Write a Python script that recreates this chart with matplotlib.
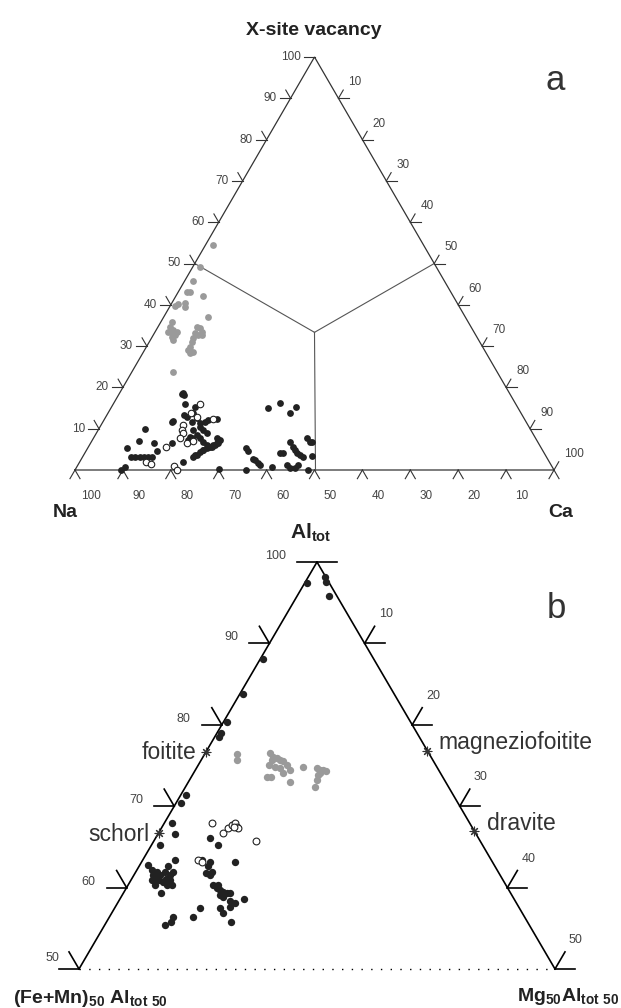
import numpy as np
import matplotlib.pyplot as plt

plt.rcParams['font.family'] = ['Liberation Sans', 'DejaVu Sans']
plt.rcParams['mathtext.fontset'] = 'custom'
plt.rcParams['mathtext.rm'] = 'Liberation Sans'
plt.rcParams['mathtext.bf'] = 'Liberation Sans:bold'

# ---- panel a : Na - X-site vacancy - Ca  (values in %: Na, vacancy) ----
a_black_na = [90.3, 89.2, 86.6, 86.8, 85.9, 84.8, 84.0, 83.1, 82.4, 83.0, 80.4, 80.3, 80.6, 76.4,
              73.85, 68.2, 68.5, 68.1, 69.0, 70.5, 70.2, 69.8, 68.35, 76.4,
              73.7, 72.8, 71.7, 70.8, 69.9, 68.7, 67.8, 66.85, 66.05, 66.55, 69.8, 64.4,
              61.6, 61.45, 61.45, 61.2, 60.9, 60.8, 58.5,
              52.35, 48.95, 48.15, 46.25, 55.1, 54.5,
              51.7, 51.6, 51.7, 51.7, 51.2, 50.7, 55.2, 54.9, 53.9, 52.8, 47.75, 47.5, 47.0, 48.9, 51.3,
              68.45, 70.45, 70.35, 70.05, 69.8, 69.5, 69.0, 68.1, 67.15, 71.95, 71.65, 73.15, 70.8,
              68.25, 67.05, 66.15, 64.25, 68.65, 68.35, 68.05, 71.75, 72.7, 67.3, 73.55]
a_black_vac = [0, 0.8, 5.25, 3.2, 3.2, 3.2, 3.2, 3.2, 3.2, 7.1, 9.9, 6.5, 4.7, 6.5,
               11.7, 18.7, 18.4, 18.2, 16.0, 13.3, 12.9, 11.7, 12.5, 2.0,
               3.2, 3.6, 4.4, 4.8, 5.25, 5.6, 6.05, 6.5, 7.3, 7.7, 0.2, 0,
               5.25, 4.7, 2.7, 2.4, 1.6, 1.2, 0.65,
               14.9, 16.3, 13.9, 15.3, 4.2, 4.0,
               6.85, 5.6, 4.8, 4.0, 3.6, 3.2, 1.2, 0.4, 0.4, 1.2, 7.7, 6.85, 6.85, 3.4, 0,
               13.7, 9.7, 8.5, 7.7, 6.85, 6.05, 5.6, 6.05, 6.5, 8.1, 7.3, 3.6, 4.8,
               11.3, 11.7, 12.1, 12.3, 10.5, 9.7, 8.9, 7.7, 7.3, 15.3, 11.9]
a_open_na = [65.9, 69.0, 68.15, 71.95, 72.85, 72.95, 74.25, 73.45, 71.9, 78.15, 84.2, 83.5, 78.8, 78.8, 65.0]
a_open_vac = [16.0, 13.7, 12.9, 10.9, 9.7, 8.9, 7.7, 6.5, 7.1, 5.5, 2.0, 1.4, 1.0, 0, 12.3]
a_gray_na = [44.0, 49.3, 52.5, 55.2, 54.5, 52.15, 59.2, 58.35, 56.8, 57.25, 53.65, 61.85,
             62.85, 63.75, 63.25, 62.55, 62.75, 63.65, 63.75, 62.05,
             57.25, 56.75, 56.8, 57.9, 59.35, 58.4, 60.1, 61.05, 61.8, 61.85, 61.0, 57.2, 67.6]
a_gray_vac = [54.5, 49.2, 45.8, 43.0, 43.0, 42.1, 39.8, 40.1, 40.4, 39.5, 37.1, 35.9,
              34.7, 33.5, 33.1, 33.9, 32.7, 32.3, 31.5, 33.5,
              34.7, 34.3, 33.5, 32.7, 31.9, 33.1, 31.1, 29.9, 29.1, 28.3, 28.6, 32.7, 23.8]

# ---- panel b : Al_tot - (Fe+Mn)50Al50 - Mg50Al50  (values in %: Al, Mg) ----
b_black_al = [97.4, 98.1, 97.5, 95.8, 88.1, 83.75, 80.3, 78.95, 78.55, 71.4, 70.35,
              67.9, 66.6, 65.2,
              62.8, 62.2, 61.55, 61.1, 60.9, 60.7, 61.1, 61.55, 61.95, 63.4, 62.6, 61.95, 61.95,
              61.55, 60.9, 60.3, 60.3, 59.3, 60.9, 60.3,
              66.05, 65.2, 63.4, 63.2, 62.6, 61.95, 61.75, 61.55, 63.2, 59.9, 59.7, 59.5, 59.3,
              59.1, 58.9, 60.3, 58.3, 58.6, 58.1, 57.65, 57.45, 57.45, 56.35, 56.35, 55.8, 55.4,
              55.8, 59.3, 60.3, 56.85]
b_black_mg = [0.2, 1.8, 2.2, 3.4, 0.25, 0.4, 0.35, 0.4, 0.4, 0.55, 0.5,
              0.8, 1.8, 0.9,
              0.9, 1.55, 2.0, 2.6, 3.0, 3.5, 3.6, 3.8, 3.9, 3.4, 3.1, 3.05, 2.2,
              2.7, 4.1, 4.6, 2.8, 4.0, 2.2, 4.05,
              5.7, 7.0, 6.2, 7.2, 7.3, 8.0, 7.5, 8.0, 9.8, 9.5, 9.95, 10.4, 10.9,
              10.3, 10.7, 9.5, 11.7, 13.0, 12.35, 12.0, 11.1, 9.0, 8.8, 6.7, 6.8, 6.3,
              13.1, 11.2, 8.9, 11.7]
b_open_al = [67.9, 66.75, 67.3, 67.7, 67.9, 67.5, 67.3, 67.5, 65.75, 63.4, 63.2]
b_open_mg = [5.05, 6.8, 7.0, 7.2, 7.4, 7.8, 8.1, 7.5, 10.7, 5.85, 6.3]
b_gray_al = [76.4, 75.7, 76.5, 76.1, 75.9, 75.7, 75.5, 75.1, 74.45, 75.7, 75.1, 74.85, 74.65,
             74.05, 73.0, 73.6, 73.6, 74.8, 74.65, 74.45, 74.45, 74.35, 73.8, 73.2, 72.4, 74.05]
b_gray_mg = [3.35, 3.7, 6.8, 7.35, 7.8, 8.3, 8.7, 9.3, 9.9, 7.4, 7.4, 8.2, 8.8,
             9.4, 10.65, 7.9, 8.4, 11.15, 12.65, 13.1, 13.4, 13.8, 13.2, 13.35, 13.6, 13.3]

minerals = ['foitite', 'schorl', 'magneziofoitite', 'dravite']
min_al = [76.6, 66.75, 76.8, 67.0]
min_mg = [0.0, 0.0, 23.2, 33.0]

R3 = np.sqrt(3) / 2
W, H = 621, 1008
fig = plt.figure(figsize=(W / 100, H / 100), dpi=100)


def make_axes(x0, x1, ybase, ytop):
    ax = fig.add_axes([0, 0, 1, 1])
    sx = (x1 - x0) / 100
    sy = (ybase - ytop) / (100 * R3)
    ax.set_xlim(-x0 / sx, (W - x0) / sx)
    ax.set_ylim(-(H - ybase) / sy, ybase / sy)
    ax.axis('off')
    return ax


def xy_a(na, vac):
    na, vac = np.asarray(na, float), np.asarray(vac, float)
    ca = 100 - na - vac
    return ca + vac / 2, vac * R3


def xy_b(al, mg):
    a = (np.asarray(al, float) - 50) * 2
    m = np.asarray(mg, float) * 2
    return m + a / 2, a * R3


def seg(ax, p, d, L, **kw):
    ax.plot([p[0], p[0] + d[0] * L], [p[1], p[1] + d[1] * L], **kw)


# ================= panel a =================
ax = make_axes(75, 554, 470, 57)
fc = '#333333'
vx, vy = xy_a([100, 0, 0, 100], [0, 0, 100, 0])
ax.plot(vx, vy, color=fc, lw=0.9, solid_joinstyle='miter')
cx, cy = xy_a(100 / 3, 100 / 3)
for na, vac in [(50, 50), (50, 0), (0, 50)]:
    px, py = xy_a(na, vac)
    ax.plot([px, cx], [py, cy], color='#555555', lw=0.8)

tk = dict(color=fc, lw=0.8)
lab = dict(fontsize=8.5, color='#444444', textcoords='offset pixels')
for v in range(10, 101, 10):
    p = xy_a(100 - v, v)
    seg(ax, p, (-1, 0), 2.2, **tk)
    if v < 100:
        seg(ax, p, (-0.5, R3), 2.0, **tk)
    ax.annotate(str(v), p, xytext=(-14, 0), ha='right', va='center', **lab)
for c in range(10, 101, 10):
    p = xy_a(0, 100 - c)
    if c < 100:
        seg(ax, p, (1, 0), 2.2, **tk)
    seg(ax, p, (0.5, R3), 2.0, **tk)
    ax.annotate(str(c), p, xytext=(10, 16), ha='left', va='center', **lab)
for n in range(0, 101, 10):
    p = xy_a(n, 0)
    seg(ax, p, (-0.5, -R3), 2.1, **tk)
    seg(ax, p, (0.5, -R3), 2.1, **tk)
    if n > 0:
        ax.annotate(str(n), p, xytext=(16, -26), ha='center', va='center', **lab)

ax.scatter(*xy_a(a_gray_na, a_gray_vac), s=24, color='#9a9a9a', lw=0, zorder=3)
ax.scatter(*xy_a(a_black_na, a_black_vac), s=24, color='#222222', lw=0, zorder=3)
ax.scatter(*xy_a(a_open_na, a_open_vac), s=22, facecolor='white', edgecolor='#222222', lw=0.8, zorder=4)

fig.text(314 / W, 1 - 35 / H, 'X-site vacancy', ha='center', va='baseline', fontsize=14,
         fontweight='bold', color='#222222')
fig.text(65 / W, 1 - 517 / H, 'Na', ha='center', va='baseline', fontsize=14, fontweight='bold', color='#222222')
fig.text(561 / W, 1 - 517 / H, 'Ca', ha='center', va='baseline', fontsize=14, fontweight='bold', color='#222222')
fig.text(555 / W, 1 - 90 / H, 'a', ha='center', va='baseline', fontsize=25, color='#333333')

# ================= panel b =================
bx = make_axes(79, 555, 969, 562)
tk = dict(color='black', lw=1.2)
vx, vy = xy_b([50, 100, 50], [0, 0, 50])
bx.plot(vx, vy, color='black', lw=1.2, solid_joinstyle='miter')
lx, ly = xy_b([50, 50], [0, 50])
bx.plot(lx, ly, color='black', lw=1.0, ls=(0, (1, 6)))

lab = dict(fontsize=9, color='#444444', textcoords='offset pixels')
for al in range(50, 101, 10):
    p = xy_b(al, 0)
    seg(bx, p, (-1, 0), 4.2, **tk)
    if al < 100:
        seg(bx, p, (-0.5, R3), 4.2, **tk)
    off = (-20, 11) if al == 50 else (-31, 6)
    bx.annotate(str(al), p, xytext=off, ha='right', va='center', **lab)
for mg in range(0, 51, 10):
    p = xy_b(100 - mg, mg)
    seg(bx, p, (1, 0), 4.2, **tk)
    if mg > 0:
        seg(bx, p, (0.5, R3), 4.2, **tk)
        bx.annotate(str(mg), p, xytext=(14, 29), ha='left', va='center', **lab)

bx.scatter(*xy_b(b_gray_al, b_gray_mg), s=28, color='#9a9a9a', lw=0, zorder=3)
bx.scatter(*xy_b(b_black_al, b_black_mg), s=28, color='#222222', lw=0, zorder=3)
bx.scatter(*xy_b(b_open_al, b_open_mg), s=24, facecolor='white', edgecolor='#222222', lw=0.8, zorder=4)

mx, my = xy_b(min_al, min_mg)
bx.scatter(mx, my, s=40, marker=(8, 2, 0), color='#333333', lw=0.8, zorder=5)
offs = [(-9, 0, 'right'), (-9, -2, 'right'), (11, 8, 'left'), (13, 7, 'left')]
for name, x, y, (dx, dy, ha) in zip(minerals, mx, my, offs):
    bx.annotate(name, (x, y), xytext=(dx, dy), textcoords='offset pixels', ha=ha, va='center',
                fontsize=16.5, color='#333333')

fig.text(290 / W, 1 - 538 / H, r'Al$_{\mathbf{tot}}$', ha='left', va='baseline', fontsize=15,
         fontweight='bold', color='#222222')
fig.text(13 / W, 1 - 1003 / H, r'(Fe+Mn)$_{\mathbf{50}}$ Al$_{\mathbf{tot\ 50}}$', ha='left', va='baseline',
         fontsize=14, fontweight='bold', color='#222222')
fig.text(619 / W, 1 - 1001 / H, r'Mg$_{\mathbf{50}}$Al$_{\mathbf{tot\ 50}}$', ha='right', va='baseline',
         fontsize=14, fontweight='bold', color='#222222')
fig.text(556 / W, 1 - 618 / H, 'b', ha='center', va='baseline', fontsize=25, color='#333333')

fig.savefig('out.png', dpi=100)
